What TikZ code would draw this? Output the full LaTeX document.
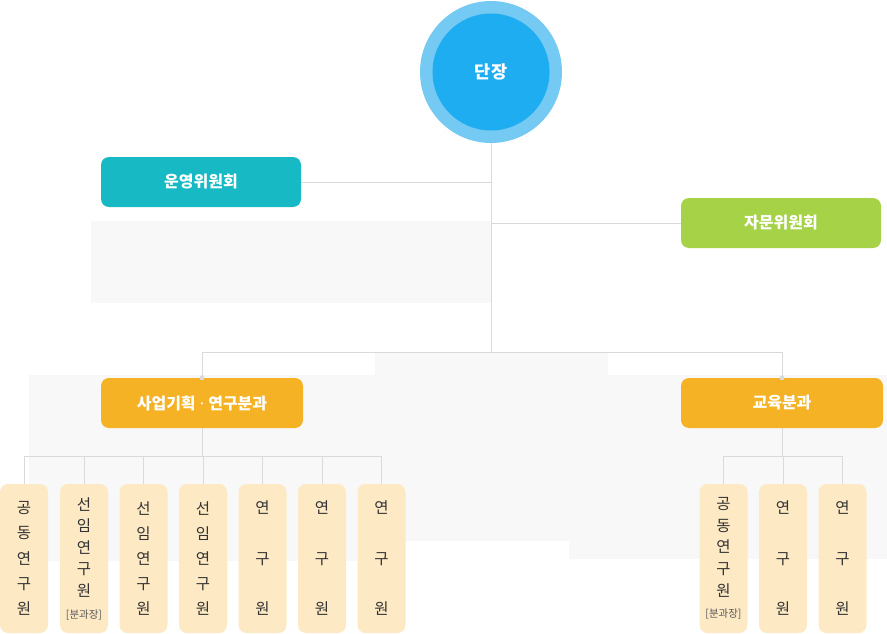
\documentclass[tikz,border=0pt]{standalone}
\usepackage{fontspec}
\newfontfamily\kr{Noto Sans CJK KR}
\newfontfamily\lat{Noto Sans}
\definecolor{panel}{HTML}{F8F8F8}
\definecolor{linec}{HTML}{DADADA}
\definecolor{outerblue}{HTML}{74CAF2}
\definecolor{innerblue}{HTML}{1EADF1}
\definecolor{teal}{HTML}{17B9C5}
\definecolor{lgreen}{HTML}{A5D247}
\definecolor{orng}{HTML}{F4B224}
\definecolor{cream}{HTML}{FDE9C4}
\definecolor{txt}{HTML}{333333}
\tikzset{
  conn/.style={draw=linec, line width=1pt},
  headbox/.style={rectangle, rounded corners=8pt, minimum width=200pt, minimum height=50pt, inner sep=0pt, text=white, font=\kr\bfseries\fontsize{16}{18}\selectfont},
  divbox/.style={headbox, minimum width=202pt},
  colbox/.style={rectangle, rounded corners=8pt, fill=cream, minimum width=48pt, minimum height=149pt, inner sep=0pt, align=center, text=txt},
  f25/.style={font=\kr\fontsize{15.5}{25.2}\selectfont},
  f21/.style={font=\kr\fontsize{15.5}{21.6}\selectfont},
  f50/.style={font=\kr\fontsize{15.5}{50.5}\selectfont},
  jdot/.style={circle, fill=linec, minimum size=5pt, inner sep=0pt}
}
\newcommand{\bunkwa}{{\fontsize{10.5}{12}\selectfont\color{black!65}[분과장]}}
\begin{document}
\begin{tikzpicture}[x=1pt,y=-1pt]
\useasboundingbox (0,0) rectangle (887,634);
% background panels
\fill[panel] (91,221) rectangle (491,303);
\fill[panel] (375,353) rectangle (608,375);
\fill[panel] (29,375) rectangle (381,561);
\fill[panel] (29,375) rectangle (569,541);
\fill[panel] (569,375) rectangle (887,559);

% chief
\node[circle, fill=outerblue, minimum size=142pt, inner sep=0pt] (chief) at (491,72) {};
\node[circle, fill=innerblue, minimum size=117pt, inner sep=0pt, text=white, font=\kr\bfseries\fontsize{17.5}{20}\selectfont] (chiefin) at (491,72) {단장};

% committees
\node[headbox, fill=teal] (op) at (201,182) {운영위원회};
\node[headbox, fill=lgreen] (adv) at (781,223) {자문위원회};

% divisions
\node[divbox, fill=orng] (div1) at (202,403) {사업기획{\lat\bfseries\ ·\ }연구분과};
\node[divbox, fill=orng] (div2) at (782,403) {교육분과};

\coordinate (j0) at (491,352);
\coordinate (j1) at (202,456);
\coordinate (j2) at (782,456);

% columns left
\node[colbox, f25] (c1) at (24,558.5) {공\\동\\연\\구\\원};
\node[colbox, f21] (c2) at (84,558.5) {선\\임\\연\\구\\원\\\bunkwa};
\node[colbox, f25] (c3) at (143.5,558.5) {선\\임\\연\\구\\원};
\node[colbox, f25] (c4) at (203,558.5) {선\\임\\연\\구\\원};
\node[colbox, f50] (c5) at (262.5,558.5) {연\\구\\원};
\node[colbox, f50] (c6) at (322,558.5) {연\\구\\원};
\node[colbox, f50] (c7) at (381.5,558.5) {연\\구\\원};
% columns right
\node[colbox, f21] (r1) at (723.5,558.5) {공\\동\\연\\구\\원\\\bunkwa};
\node[colbox, f50] (r2) at (783,558.5) {연\\구\\원};
\node[colbox, f50] (r3) at (842.5,558.5) {연\\구\\원};

% connectors
\draw[conn] (chief.south) -- (j0);
\draw[conn] (op.east) -- (op.east -| j0);
\draw[conn] (adv.west) -- (adv.west -| j0);
\draw[conn] (div1.north) |- (j0);
\draw[conn] (div2.north) |- (j0);
\node[jdot] (d1) at (div1.north) {};
\node[jdot] (d2) at (div2.north) {};
\draw[conn] (div1.south) -- (j1);
\draw[conn] (div2.south) -- (j2);
\foreach \c in {c1,c2,c3,c4,c5,c6,c7} {\draw[conn] (\c.north) |- (j1);}
\foreach \c in {r1,r2,r3} {\draw[conn] (\c.north) |- (j2);}
\end{tikzpicture}
\end{document}
